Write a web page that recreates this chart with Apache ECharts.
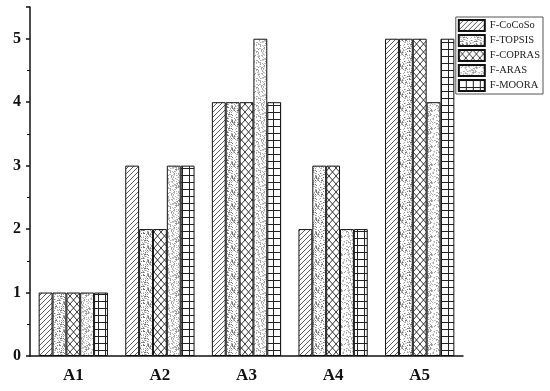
<!DOCTYPE html>
<html><head><meta charset="utf-8">
<script src="https://cdn.jsdelivr.net/npm/echarts@6/dist/echarts.min.js"></script>
<style>html,body{margin:0;padding:0;background:#fff}#c{width:550px;height:391px}</style>
</head><body><div id="c"></div>
<script>
const categories = ['A1','A2','A3','A4','A5'];
const seriesNames = ['F-CoCoSo','F-TOPSIS','F-COPRAS','F-ARAS','F-MOORA'];
const vCoCoSo = [1,3,4,2,5];
const vTOPSIS = [1,2,4,3,5];
const vCOPRAS = [1,2,4,3,5];
const vARAS   = [1,3,5,2,4];
const vMOORA  = [1,3,4,2,5];
const yTicks = [0,1,2,3,4,5];

function hash(i){ let x = Math.sin(i*12.9898+78.233)*43758.5453; return x-Math.floor(x); }
function tile(w,h,draw){
  const c=document.createElement('canvas'); c.width=w; c.height=h;
  const ctx=c.getContext('2d'); ctx.fillStyle='#fff'; ctx.fillRect(0,0,w,h);
  draw(ctx,w,h); return {image:c, repeat:'repeat'};
}
const pDiag = tile(5,5,(ctx,w,h)=>{
  ctx.strokeStyle='#333'; ctx.lineWidth=0.8; ctx.beginPath();
  ctx.moveTo(-1,6);ctx.lineTo(6,-1);
  ctx.moveTo(-1,1);ctx.lineTo(1,-1);
  ctx.moveTo(4,6);ctx.lineTo(6,4);
  ctx.stroke();
});
const pDots = tile(14,14,(ctx,w,h)=>{
  for(let i=0;i<85;i++){
    const x=Math.floor(hash(i)*w), y=Math.floor(hash(i+500)*h);
    const r=hash(i+900);
    ctx.fillStyle = r>0.7?'#777':(r>0.35?'#a0a0a0':'#c4c4c4');
    ctx.fillRect(x,y,1,1);
  }
});
const pCross = tile(7,8,(ctx,w,h)=>{
  ctx.strokeStyle='#222'; ctx.lineWidth=0.9; ctx.beginPath();
  ctx.moveTo(0,0);ctx.lineTo(w,h);
  ctx.moveTo(0,h);ctx.lineTo(w,0);
  ctx.stroke();
});
const pAras = tile(18,18,(ctx,w,h)=>{
  for(let i=0;i<140;i++){
    const x=Math.floor(hash(i+1300)*w), y=Math.floor(hash(i+1700)*h);
    const d = ((x+y)%18);
    const r=hash(i+2100);
    ctx.fillStyle = (d<6)?(r>0.5?'#999':'#b8b8b8'):(r>0.6?'#b0b0b0':'#d2d2d2');
    ctx.fillRect(x,y,1,1);
  }
});
const pGrid = tile(7,7,(ctx,w,h)=>{
  ctx.strokeStyle='#222'; ctx.lineWidth=1; ctx.beginPath();
  ctx.moveTo(0.5,0);ctx.lineTo(0.5,h);
  ctx.moveTo(0,0.5);ctx.lineTo(w,0.5);
  ctx.stroke();
});
const patterns=[pDiag,pDots,pCross,pAras,pGrid];
const values=[vCoCoSo,vTOPSIS,vCOPRAS,vARAS,vMOORA];

const font='"Liberation Serif", "DejaVu Serif", serif';
const chart=echarts.init(document.getElementById('c'),null,{renderer:'canvas'});
chart.setOption({
  animation:false,
  backgroundColor:'#fff',
  grid:{left:30,right:87,top:7,bottom:35},
  legend:{
    orient:'vertical', right:7, top:17, itemWidth:26, itemHeight:11, itemGap:2,
    padding:[2,3,2,2], borderColor:'#555', borderWidth:1,
    textStyle:{fontFamily:font,fontSize:10.5,lineHeight:13,color:'#222'},
    data:seriesNames, icon:'rect'
  },
  xAxis:[{
    type:'category', data:categories,
    axisLine:{lineStyle:{color:'#111',width:1.5}},
    axisTick:{alignWithLabel:true,length:6,lineStyle:{color:'#111',width:1.5}},
    axisLabel:{fontFamily:font,fontWeight:'bold',fontSize:17,color:'#111',margin:11}
  },{
    type:'category', data:categories, position:'bottom',
    axisLine:{show:false},
    axisTick:{length:3,lineStyle:{color:'#111',width:1}},
    axisLabel:{show:false}
  }],
  yAxis:{
    type:'value', min:0, max:5.5, interval:1,
    axisLine:{show:true,lineStyle:{color:'#111',width:1.5}},
    axisTick:{show:true,length:4,lineStyle:{color:'#111',width:1.5}},
    minorTick:{show:true,splitNumber:2,length:3,lineStyle:{color:'#111',width:1}},
    splitLine:{show:false},
    axisLabel:{fontFamily:font,fontWeight:'bold',fontSize:16,color:'#111',margin:9,
      formatter:v=>yTicks.indexOf(v)>=0?String(v):''}
  },
  series: seriesNames.map((n,i)=>({
    name:n, type:'bar', data:values[i], xAxisIndex:0,
    barGap:'0%', barCategoryGap:'20%',
    itemStyle:{color:patterns[i], borderColor:'#111', borderWidth:1}
  }))
});
</script></body></html>
